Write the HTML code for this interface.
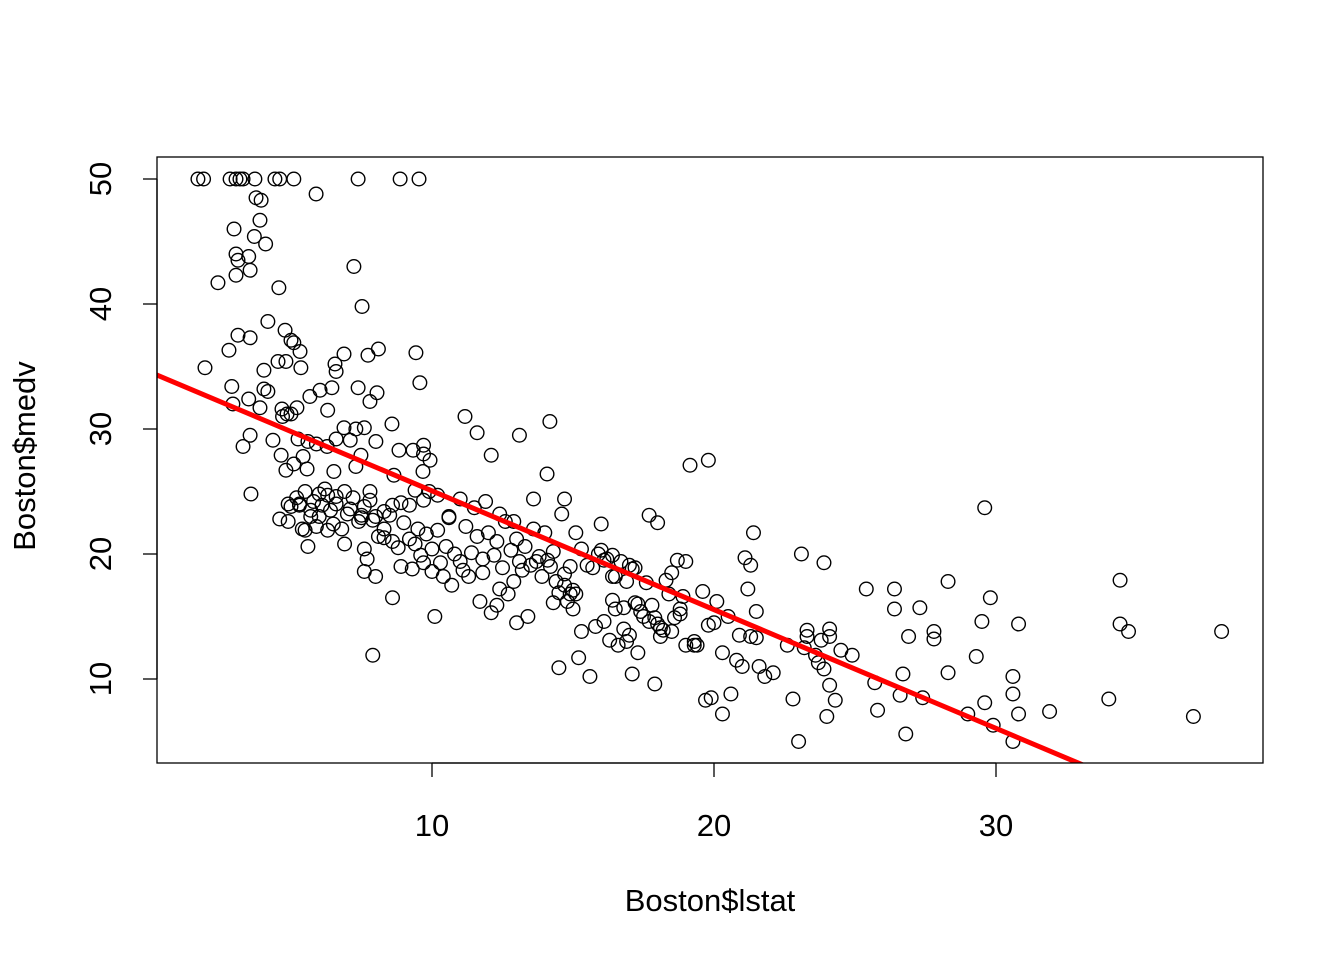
<!DOCTYPE html>
<html><head><meta charset="utf-8"><style>
body{margin:0;background:#fff}
svg{display:block;font-family:"Liberation Sans",Arial,sans-serif}
</style></head><body>
<svg id="chart" width="1344" height="960">
<defs><clipPath id="clip"><rect x="157" y="157" width="1106" height="606"/></clipPath></defs>
<g id="pts" clip-path="url(#clip)"></g>
<g id="fit" clip-path="url(#clip)"></g>
<rect x="157" y="157" width="1106" height="606" fill="none" stroke="#000" stroke-width="1.3"/>
<g id="xaxis"></g>
<g id="yaxis"></g>
<text x="710" y="911" font-size="31" text-anchor="middle">Boston$lstat</text>
<text x="0" y="0" font-size="31" text-anchor="middle" transform="translate(35,456) rotate(-90)">Boston$medv</text>
</svg>
<script>
const xTicks=[10,20,30];
const yTicks=[10,20,30,40,50];
const fitIntercept=34.55;
const fitSlope=-0.95;
const lstat=[1.7,1.9,2.84,3.05,3.19,3.3,3.72,4.43,4.6,5.1,7.38,8.87,9.54,
5.89,3.76,3.94,3.9,2.98,3.7,4.1,3.05,7.23,3.12,3.5,3.55,3.05,2.41,4.57,7.52,4.18,4.79,3.12,3.55,5,5.1,8.1,2.8,9.43,6.88,7.73,5.32,6.56,4.54,4.82,1.95,4.04,5.35,6.6,7.38,6.03,6.45,2.9,4.04,4.18,8.05,9.57,5.67,7.8,3.5,2.94,3.9,4.68,6.3,5.21,11.17,4.86,14.18,8.58,6.88,11.6,13.1,3.55,4.36,7.1,5.25,8.01,9.7,3.3,6.28,8.83,9.33,12.1,4.65,7.48,5.43,5.9,9.93,19.15,19.8,5.1,7.3,14.08,4.82,6.52,8.65,9.68,5.57,3.58,29.6,
4.6,5.0,5.2,5.5,5.8,6.0,6.2,6.4,6.6,6.8,7.0,7.2,7.4,7.6,5.4,5.7,6.1,4.9,5.3,6.5,6.9,5.6,6.3,7.1,7.5,7.8,7.9,8.1,8.3,8.5,8.6,8.8,9.0,9.2,9.4,9.5,9.6,9.8,10.0,10.2,10.3,10.5,10.6,10.8,11.0,11.2,11.4,11.6,11.8,12.0,12.2,12.3,12.5,12.6,12.8,13.0,13.1,13.3,13.5,13.6,13.8,14.0,14.1,14.3,14.4,14.6,14.7,14.9,15.0,15.1,15.3,15.5,15.7,15.9,16.0,16.2,16.4,16.5,16.7,16.9,17.1,17.2,17.4,17.6,17.7,17.9,18.0,18.1,18.3,18.5,18.7,18.8,18.9,16.3,16.1,15.8,15.6,15.2,14.5,15.3,16.6,17.0,17.3,17.1,17.9,18.0,17.5,17.3,16.8,16.4,15.0,14.9,14.7,14.3,13.9,13.4,13.0,12.7,12.3,12.1,11.7,11.3,10.1,8.6,7.9,8.0,7.6,7.7,7.6,8.3,8.9,9.3,9.7,10.0,10.4,10.7,11.1,11.8,12.4,12.9,13.2,13.7,14.2,14.5,14.8,13.6,14.7,15.1,12.9,12.4,11.9,11.5,11.0,10.6,10.2,9.9,9.7,9.4,9.2,8.9,8.6,8.3,8.0,7.8,7.5,6.9,6.6,6.3,6.0,5.7,5.3,4.9,5.0,4.7,5.9,5.5,5.6,6.6,7.3,7.6,9.7,
19.0,19.3,19.4,19.3,19.6,19.8,20.0,19.7,19.9,20.1,20.3,20.3,20.5,20.6,20.8,20.9,21.0,21.1,21.2,21.3,21.3,21.5,21.5,21.4,21.6,21.8,22.1,22.6,22.8,23.0,23.1,23.2,23.3,23.3,23.6,23.7,23.8,23.9,23.9,24.0,24.1,24.1,24.1,24.3,24.5,24.9,25.4,25.7,25.8,26.4,26.4,26.6,26.7,26.8,26.9,27.3,27.4,27.8,27.8,28.3,28.3,29.0,29.3,29.5,29.6,29.8,29.9,30.6,30.6,30.6,30.8,30.8,31.9,34.0,34.4,34.4,34.7,37.0,38.0,16.1,16.4,16.0,17.2,17.8,18.1,18.4,18.6,18.8,19.0,18.5,18.2,17.7,16.9,16.8,16.5,17.0];
const medv=[50,50,50,50,50,50,50,50,50,50,50,50,50,
48.8,48.5,48.3,46.7,46,45.4,44.8,44,43,43.5,43.8,42.7,42.3,41.7,41.3,39.8,38.6,37.9,37.5,37.3,37.1,36.9,36.4,36.3,36.1,36,35.9,36.2,35.2,35.4,35.4,34.9,34.7,34.9,34.6,33.3,33.1,33.3,33.4,33.2,33,32.9,33.7,32.6,32.2,32.4,32,31.7,31.6,31.5,31.7,31,31.2,30.6,30.4,30.1,29.7,29.5,29.5,29.1,29.1,29.2,29,28.7,28.6,28.6,28.3,28.3,27.9,27.9,27.9,27.8,28.8,27.5,27.1,27.5,27.2,27,26.4,26.7,26.6,26.3,26.6,26.8,24.8,23.7,
22.8,23.8,24.5,25,24.2,24.8,25.2,23.5,24.0,22.0,23.2,24.5,22.6,23.8,22.0,23.0,23.9,22.6,24.0,22.4,20.8,20.6,21.9,23.6,22.9,24.3,22.7,21.4,22.0,23.1,21.0,20.5,22.5,21.2,20.8,22.0,19.9,21.6,20.4,21.9,19.3,20.6,22.9,20.0,19.4,22.2,20.1,21.4,19.6,21.7,19.9,21.0,18.9,22.6,20.3,21.2,19.4,20.6,19.1,22.0,19.8,21.7,19.5,20.2,17.8,23.2,18.4,19.0,17.1,16.8,20.4,19.1,18.9,20.0,22.4,19.6,18.2,15.6,19.4,17.8,18.8,16.1,15.4,17.7,23.1,14.9,22.5,13.4,17.9,18.5,19.5,15.2,16.6,13.1,14.6,14.2,10.2,11.7,10.9,13.8,12.7,13.5,12.1,10.4,9.6,14.4,15.0,16.0,15.7,16.3,15.6,16.8,17.5,16.1,18.2,15.0,14.5,16.8,15.9,15.3,16.2,18.2,15.0,16.5,11.9,18.2,18.6,19.6,20.4,21.3,19.0,18.8,19.3,18.6,18.2,17.5,18.7,18.5,17.2,17.8,18.7,19.4,19.0,16.9,16.2,24.4,24.4,21.7,22.6,23.2,24.2,23.7,24.4,23.0,24.7,25.0,24.3,25.1,23.9,24.1,23.9,23.4,23.0,25.0,23.1,25.0,24.6,24.7,23.0,23.5,23.9,24.0,31.2,31.0,22.2,21.9,29.0,29.2,30.0,30.1,28.0,
12.7,12.7,12.7,13.0,17.0,14.3,14.5,8.3,8.5,16.2,12.1,7.2,15.0,8.8,11.5,13.5,11.0,19.7,17.2,19.1,13.4,13.3,15.4,21.7,11.0,10.2,10.5,12.7,8.4,5.0,20.0,12.5,13.9,13.4,11.9,11.3,13.1,10.8,19.3,7.0,9.5,13.4,14.0,8.3,12.3,11.9,17.2,9.7,7.5,17.2,15.6,8.7,10.4,5.6,13.4,15.7,8.5,13.2,13.8,10.5,17.8,7.2,11.8,14.6,8.1,16.5,6.3,10.2,8.8,5.0,7.2,14.4,7.4,8.4,17.9,14.4,13.8,7.0,13.8,19.5,19.9,20.3,18.9,15.9,14.1,16.8,14.9,15.6,19.4,13.8,13.9,14.6,13.0,14.0,18.2,19.1];

const NS='http://www.w3.org/2000/svg';
const sx=v=>150+28.2*v;
const sy=v=>804-12.5*v;
function mk(tag,attrs,parent){const e=document.createElementNS(NS,tag);for(const k in attrs)e.setAttribute(k,attrs[k]);parent.appendChild(e);return e;}
const pts=document.getElementById('pts');
const n=Math.min(lstat.length,medv.length);
for(let i=0;i<n;i++){
  const c=mk('circle',{cx:sx(lstat[i]),cy:sy(medv[i]),r:6.8,fill:'none',stroke:'#000','stroke-width':1.4},pts);
  
  
}
const fit=document.getElementById('fit');
const x0=0,x1=40;
const ln=mk('line',{x1:sx(x0),y1:sy(fitIntercept+fitSlope*x0),x2:sx(x1),y2:sy(fitIntercept+fitSlope*x1),stroke:'#ff0000','stroke-width':5},fit);


const xa=document.getElementById('xaxis');
const xl=mk('line',{x1:sx(xTicks[0]),y1:763,x2:sx(xTicks[xTicks.length-1]),y2:763,stroke:'#000','stroke-width':1.3},xa);


xTicks.forEach(t=>{
  const tk=mk('line',{x1:sx(t),y1:763,x2:sx(t),y2:777,stroke:'#000','stroke-width':1.3},xa);
  
  
  const tx=mk('text',{x:sx(t),y:836,'font-size':31,'text-anchor':'middle'},xa);
  tx.textContent=t;
  
  
});
const ya=document.getElementById('yaxis');
const yl=mk('line',{x1:157,y1:sy(yTicks[0]),x2:157,y2:sy(yTicks[yTicks.length-1]),stroke:'#000','stroke-width':1.3},ya);


yTicks.forEach(t=>{
  const tk=mk('line',{x1:143,y1:sy(t),x2:157,y2:sy(t),stroke:'#000','stroke-width':1.3},ya);
  
  
  const tx=mk('text',{x:0,y:0,'font-size':31,'text-anchor':'middle',transform:`translate(111,${sy(t)}) rotate(-90)`},ya);
  tx.textContent=t;
  
  
});
</script>
</body></html>
